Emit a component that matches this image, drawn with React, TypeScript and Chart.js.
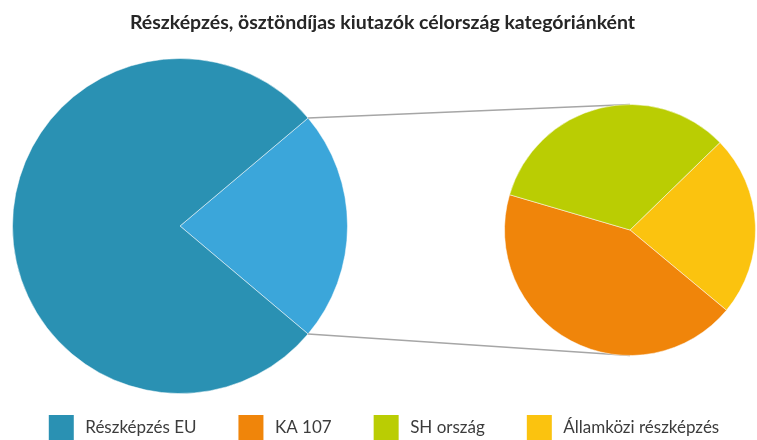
import React, { useEffect, useRef } from "react";
import { Chart, registerables } from "chart.js";

Chart.register(...registerables);

const TITLE = "Részképzés, ösztöndíjas kiutazók célország kategóriánként";
const CATEGORIES = ["Részképzés EU", "KA 107", "SH ország", "Államközi részképzés"];
const COLORS = ["#2a91b3", "#f0850a", "#bacd03", "#fbc30f"];
const VALUES = [777, 97, 74, 52];
const OTHER_LABEL = "Egyéb";
const OTHER_COLOR = "#3ba6da";
// order of the slices in the secondary pie (indices into CATEGORIES)
const SECONDARY_ORDER = [3, 1, 2];

const W = 757;
const MAIN_W = 765;
const H = 453;
const FONT = "Lato, 'Open Sans', sans-serif";

export default function App() {
  const mainRef = useRef<HTMLCanvasElement | null>(null);
  const leftRef = useRef<HTMLCanvasElement | null>(null);
  const rightRef = useRef<HTMLCanvasElement | null>(null);

  useEffect(() => {
    const main = new Chart(mainRef.current as HTMLCanvasElement, {
      type: "pie",
      data: {
        labels: CATEGORIES,
        datasets: [{ data: VALUES, backgroundColor: COLORS, hidden: true } as any],
      },
      options: {
        responsive: false,
        animation: false,
        events: [],
        plugins: {
          title: {
            display: true,
            text: TITLE,
            color: "#262626",
            font: { family: FONT, size: 19.5, weight: "bold" },
            padding: { top: 11, bottom: 10 },
          },
          legend: {
            position: "bottom",
            labels: {
              boxWidth: 31,
              boxHeight: 31,
              padding: 39,
              color: "#3c3c3c",
              font: { family: FONT, size: 17 },
              generateLabels: () =>
                CATEGORIES.map((t, i) => ({
                  text: t,
                  fillStyle: COLORS[i],
                  strokeStyle: "#ffffff",
                  lineWidth: 6,
                  hidden: false,
                  index: i,
                  fontColor: "#3c3c3c",
                })),
            },
          },
          tooltip: { enabled: false },
        },
      },
    });

    const right = new Chart(rightRef.current as HTMLCanvasElement, {
      type: "pie",
      data: {
        labels: SECONDARY_ORDER.map((i) => CATEGORIES[i]),
        datasets: [
          {
            data: SECONDARY_ORDER.map((i) => VALUES[i]),
            backgroundColor: SECONDARY_ORDER.map((i) => COLORS[i]),
            borderColor: "rgba(255,255,255,0.5)",
            borderWidth: 1,
          },
        ],
      },
      options: {
        responsive: false,
        animation: false,
        events: [],
        rotation: 45.8,
        layout: { padding: { left: 504, top: 104, right: 1, bottom: H - 356 } },
        plugins: { legend: { display: false }, title: { display: false }, tooltip: { enabled: false } },
      } as any,
    });

    const otherTotal = SECONDARY_ORDER.reduce((s, i) => s + VALUES[i], 0);
    const total = VALUES[0] + otherTotal;
    const leftRotation = 90 - (otherTotal / total) * 180;

    const connector = {
      id: "connector",
      afterDatasetsDraw(chart: any) {
        const ctx = chart.ctx as CanvasRenderingContext2D;
        const arc = chart.getDatasetMeta(0).data[0] as any;
        const a = arc.getProps(["x", "y", "startAngle", "endAngle", "outerRadius"], true);
        const r2 = right.getDatasetMeta(0).data[0] as any;
        const b = r2.getProps(["x", "y", "outerRadius"], true);
        ctx.save();
        ctx.strokeStyle = "#a6a6a6";
        ctx.lineWidth = 1.3;
        ctx.beginPath();
        ctx.moveTo(a.x + a.outerRadius * Math.cos(a.startAngle), a.y + a.outerRadius * Math.sin(a.startAngle));
        ctx.lineTo(b.x, b.y - b.outerRadius);
        ctx.moveTo(a.x + a.outerRadius * Math.cos(a.endAngle), a.y + a.outerRadius * Math.sin(a.endAngle));
        ctx.lineTo(b.x, b.y + b.outerRadius);
        ctx.stroke();
        ctx.restore();
      },
    };

    const left = new Chart(leftRef.current as HTMLCanvasElement, {
      type: "pie",
      data: {
        labels: [OTHER_LABEL, CATEGORIES[0]],
        datasets: [
          {
            data: [otherTotal, VALUES[0]],
            backgroundColor: [OTHER_COLOR, COLORS[0]],
            borderColor: "rgba(255,255,255,0.5)",
            borderWidth: 1,
          },
        ],
      },
      options: {
        responsive: false,
        animation: false,
        events: [],
        rotation: leftRotation,
        layout: { padding: { left: 12, top: 58, right: 409, bottom: H - 394 } },
        plugins: { legend: { display: false }, title: { display: false }, tooltip: { enabled: false } },
      } as any,
      plugins: [connector],
    });

    return () => {
      left.destroy();
      right.destroy();
      main.destroy();
    };
  }, []);

  const cv: React.CSSProperties = { position: "absolute", left: 0, top: 0 };
  return (
    <div style={{ position: "fixed", left: 0, top: 0, width: W, height: 440, overflow: "hidden", background: "#fff" }}>
      <canvas ref={mainRef} width={MAIN_W} height={H} style={cv} />
      <canvas ref={leftRef} width={W} height={H} style={cv} />
      <canvas ref={rightRef} width={W} height={H} style={cv} />
    </div>
  );
}
